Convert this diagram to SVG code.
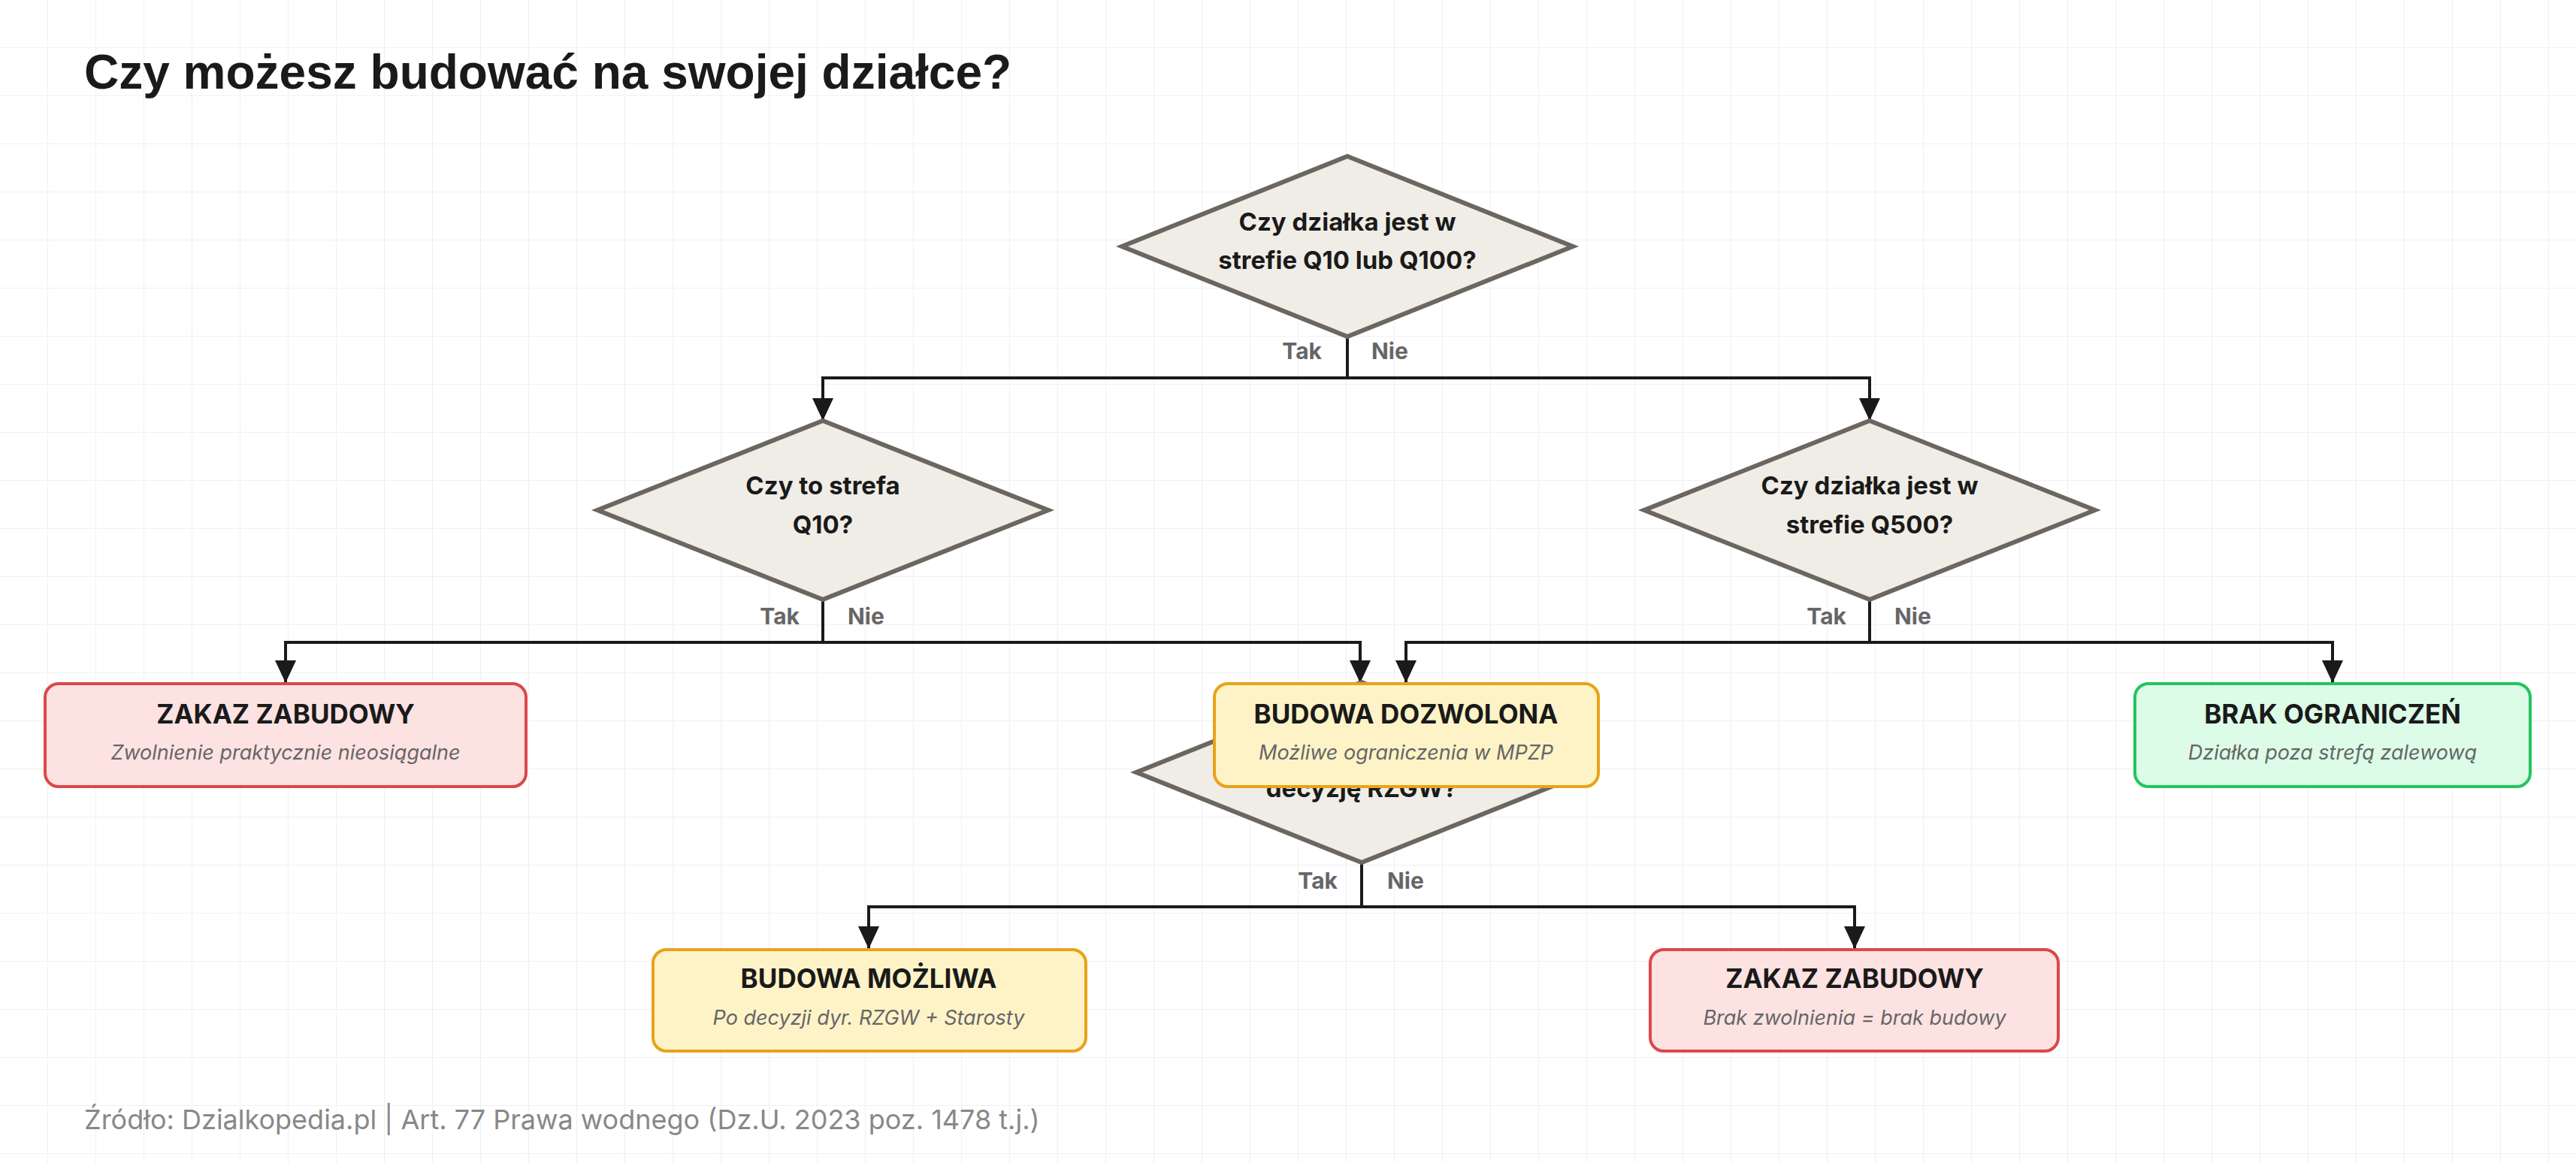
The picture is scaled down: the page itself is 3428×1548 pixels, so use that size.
<svg xmlns="http://www.w3.org/2000/svg" width="3428" height="1548" viewBox="0 0 3428 1548">
<defs>
<pattern id="grid" width="64" height="64" patternUnits="userSpaceOnUse"><path d="M64 0V64M0 64H64" fill="none" stroke="#f0f0f0" stroke-width="2"/></pattern>
<marker id="ar" markerWidth="10" markerHeight="12" refX="9" refY="6" orient="auto" markerUnits="userSpaceOnUse" viewBox="0 0 10 12"><path d="M0 0L10 6L0 12Z" fill="#1a1a1a"/></marker>
<marker id="arr" viewBox="0 0 30 28" refX="30" refY="14" markerWidth="30" markerHeight="28" orient="auto" markerUnits="userSpaceOnUse"><path d="M0 0L30 14L0 28Z" fill="#1a1a1a"/></marker>
</defs>
<style>
.dia{fill:#f0ede6;stroke:#6b6760;stroke-width:6}
.dt{font-family:Inter,"Liberation Sans",sans-serif;font-weight:700;font-size:33px;fill:#1a1a1a;text-anchor:middle}
.lbl{font-family:Inter,"Liberation Sans",sans-serif;font-weight:700;font-size:30px;fill:#666}
.c{fill:none;stroke:#1a1a1a;stroke-width:4}
.red{fill:#fde2e2;stroke:#dc4848;stroke-width:4}
.yel{fill:#fef3c7;stroke:#e8a317;stroke-width:4}
.grn{fill:#dcfce7;stroke:#22c55e;stroke-width:4}
.bt{font-family:Inter,"Liberation Sans",sans-serif;font-weight:700;font-size:35px;fill:#1a1a1a;text-anchor:middle}
.bs{font-family:Inter,"Liberation Sans",sans-serif;font-style:italic;font-size:27px;fill:#666;text-anchor:middle}
</style>
<rect width="3428" height="1548" fill="#fff"/>
<rect width="3428" height="1548" fill="url(#grid)"/>
<text x="112" y="118" font-family="'Liberation Sans',Arial,sans-serif" font-weight="700" font-size="64" fill="#1a1a1a">Czy możesz budować na swojej działce?</text>

<g id="connectors">
<path class="c" d="M1793 448V503M1793 503H1095V560" marker-end="url(#arr)"/>
<path class="c" d="M1793 503H2488V560" marker-end="url(#arr)"/>
<path class="c" d="M1095 798V855M1095 855H380V909" marker-end="url(#arr)"/>
<path class="c" d="M1095 855H1810V909" marker-end="url(#arr)"/>
<path class="c" d="M2488 798V855M2488 855H1871V909" marker-end="url(#arr)"/>
<path class="c" d="M2488 855H3104V909" marker-end="url(#arr)"/>
<path class="c" d="M1812 1148V1207M1812 1207H1156V1263" marker-end="url(#arr)"/>
<path class="c" d="M1812 1207H2468V1263" marker-end="url(#arr)"/>
<text class="lbl" x="1759" y="478" text-anchor="end">Tak</text><text class="lbl" x="1825" y="478">Nie</text>
<text class="lbl" x="1064" y="831" text-anchor="end">Tak</text><text class="lbl" x="1128" y="831">Nie</text>
<text class="lbl" x="2457" y="831" text-anchor="end">Tak</text><text class="lbl" x="2521" y="831">Nie</text>
<text class="lbl" x="1780" y="1183" text-anchor="end">Tak</text><text class="lbl" x="1846" y="1183">Nie</text>
</g>

<g id="q1"><polygon class="dia" points="1793,208 2093,328 1793,448 1493,328"/>
<text class="dt" x="1793" y="307">Czy działka jest w</text><text class="dt" x="1793" y="358">strefie Q10 lub Q100?</text></g>
<g id="q2"><polygon class="dia" points="1095,560 1395,679 1095,798 795,679"/>
<text class="dt" x="1095" y="658">Czy to strefa</text><text class="dt" x="1095" y="710">Q10?</text></g>
<g id="q3"><polygon class="dia" points="2488,560 2788,679 2488,798 2188,679"/>
<text class="dt" x="2488" y="658">Czy działka jest w</text><text class="dt" x="2488" y="710">strefie Q500?</text></g>
<g id="q4"><polygon class="dia" points="1812,908 2112,1028 1812,1148 1512,1028"/>
<text class="dt" x="1812" y="1061">decyzję RZGW?</text></g>

<g id="zakaz1"><rect class="red" x="60" y="910" width="640" height="137" rx="18"/>
<text class="bt" x="380" y="963">ZAKAZ ZABUDOWY</text><text class="bs" x="380" y="1011">Zwolnienie praktycznie nieosiągalne</text></g>
<g id="dozwolona"><rect class="yel" x="1616" y="910" width="511" height="137" rx="18"/>
<text class="bt" x="1871" y="963">BUDOWA DOZWOLONA</text><text class="bs" x="1871" y="1011">Możliwe ograniczenia w MPZP</text></g>
<g id="brak"><rect class="grn" x="2841" y="910" width="526" height="137" rx="18"/>
<text class="bt" x="3104" y="963">BRAK OGRANICZEŃ</text><text class="bs" x="3104" y="1011">Działka poza strefą zalewową</text></g>
<g id="mozliwa"><rect class="yel" x="869" y="1264" width="576" height="135" rx="18"/>
<text class="bt" x="1156" y="1315">BUDOWA MOŻLIWA</text><text class="bs" x="1156" y="1364">Po decyzji dyr. RZGW + Starosty</text></g>
<g id="zakaz2"><rect class="red" x="2196" y="1264" width="543" height="135" rx="18"/>
<text class="bt" x="2468" y="1315">ZAKAZ ZABUDOWY</text><text class="bs" x="2468" y="1364">Brak zwolnienia = brak budowy</text></g>

<text x="112" y="1503" font-family="Inter,'Liberation Sans',sans-serif" font-size="36" fill="#888">Źródło: Dzialkopedia.pl | Art. 77 Prawa wodnego (Dz.U. 2023 poz. 1478 t.j.)</text>
</svg>
